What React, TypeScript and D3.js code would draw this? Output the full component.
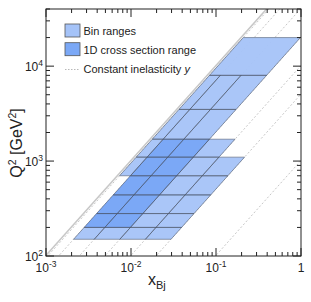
import * as d3 from "d3";

// ep centre-of-mass energy squared (GeV^2)
const S = 101568;

// Q^2 bin edges and the inelasticity edges used in each Q^2 band
const q2Edges = [150, 200, 280, 440, 700, 1100, 1700, 3500, 8000, 20000];
const yEdgesByBand = [
  [0.05, 0.1, 0.2, 0.4, 0.7],
  [0.05, 0.1, 0.2, 0.4, 0.7],
  [0.05, 0.1, 0.2, 0.4, 0.7],
  [0.05, 0.1, 0.2, 0.4, 0.7],
  [0.05, 0.1, 0.2, 0.4, 0.7, 0.94],
  [0.1, 0.2, 0.4, 0.7, 0.94],
  [0.2, 0.4, 0.7, 0.94],
  [0.2, 0.4, 0.7, 0.94],
  [0.2, 0.94],
];

// 1D cross section phase space
const oneDQ2 = [200, 1700];
const oneDY = [0.2, 0.7];

// constant inelasticity lines
const yLines = [0.94, 0.7, 0.4, 0.2, 0.1, 0.05, 0.01];

const xLabelValues = [0.001, 0.01, 0.1, 1];
const xLabelExp = ["-3", "-2", "-1", ""];
const yLabelValues = [100, 1000, 10000];
const yLabelExp = ["2", "3", "4"];

const legendItems = ["Bin ranges", "1D cross section range"];

const W = 311;
const H = 302;
const frame = { left: 46, right: 301, top: 9, bottom: 256 };
const FONT = "Liberation Sans, Arial, Helvetica, sans-serif";

const lightFill = "#a5c3f8";
const darkFill = "#7ba8f6";
const edgeColor = "#4a5568";

export default function App() {
  const x = d3.scaleLog().domain([1e-3, 1]).range([frame.left, frame.right]);
  const y = d3.scaleLog().domain([100, 40000]).range([frame.bottom, frame.top]);

  const xAt = (q2: number, yy: number) => x(q2 / (S * yy));

  const cell = (q2lo: number, q2hi: number, ylo: number, yhi: number) => {
    const pts: [number, number][] = [
      [xAt(q2lo, yhi), y(q2lo)],
      [xAt(q2lo, ylo), y(q2lo)],
      [xAt(q2hi, ylo), y(q2hi)],
      [xAt(q2hi, yhi), y(q2hi)],
    ];
    return "M" + pts.map((p) => p.join(",")).join("L") + "Z";
  };

  const bins: { d: string; key: string }[] = [];
  yEdgesByBand.forEach((edges, i) => {
    for (let j = 0; j < edges.length - 1; j++) {
      bins.push({
        key: `b${i}-${j}`,
        d: cell(q2Edges[i], q2Edges[i + 1], edges[j], edges[j + 1]),
      });
    }
  });

  const xTicks = x.ticks();
  const yTicks = y.ticks().filter((t) => t <= 40000);
  const isMajor = (t: number) => Math.abs(Math.log10(t) - Math.round(Math.log10(t))) < 1e-6;

  const lineFor = (yy: number) => {
    const q0 = 50;
    const q1 = 100000;
    return `M${xAt(q0, yy)},${y(q0)}L${xAt(q1, yy)},${y(q1)}`;
  };

  return (
    <svg width={W} height={H} style={{ position: "absolute", left: 0, top: 0 }} fontFamily={FONT}>
      <defs>
        <clipPath id="frame">
          <rect x={frame.left} y={frame.top} width={frame.right - frame.left} height={frame.bottom - frame.top} />
        </clipPath>
      </defs>
      <rect width={W} height={H} fill="white" />

      <g clipPath="url(#frame)">
        {/* y = 1 kinematic limit */}
        <path d={lineFor(1)} stroke="#c8c8c8" strokeWidth={1.6} fill="none" />
        {yLines.map((yy) => (
          <path key={yy} d={lineFor(yy)} stroke="#b8b8b8" strokeWidth={0.8} strokeDasharray="2,2" fill="none" />
        ))}

        {bins.map((b) => (
          <path key={b.key} d={b.d} fill={lightFill} fillOpacity={0.95} />
        ))}
        <path d={cell(oneDQ2[0], oneDQ2[1], oneDY[0], oneDY[1])} fill={darkFill} />
        {bins.map((b) => (
          <path key={b.key + "e"} d={b.d} fill="none" stroke={edgeColor} strokeOpacity={0.7} strokeWidth={0.8} />
        ))}
      </g>

      {/* frame */}
      <rect
        x={frame.left}
        y={frame.top}
        width={frame.right - frame.left}
        height={frame.bottom - frame.top}
        fill="none"
        stroke="#222"
        strokeWidth={1}
      />

      {/* ticks */}
      {xTicks.map((t) => {
        const len = isMajor(t) ? 8 : 4;
        const px = x(t);
        return (
          <g key={"xt" + t} stroke="#222" strokeWidth={1}>
            <line x1={px} x2={px} y1={frame.bottom} y2={frame.bottom - len} />
            <line x1={px} x2={px} y1={frame.top} y2={frame.top + len} />
          </g>
        );
      })}
      {yTicks.map((t) => {
        const len = isMajor(t) ? 8 : 4;
        const py = y(t);
        return (
          <g key={"yt" + t} stroke="#222" strokeWidth={1}>
            <line x1={frame.left} x2={frame.left + len} y1={py} y2={py} />
            <line x1={frame.right} x2={frame.right - len} y1={py} y2={py} />
          </g>
        );
      })}

      {/* tick labels */}
      {xLabelValues.map((v, i) => (
        <text key={"xl" + v} x={x(v)} y={272} fontSize={12} textAnchor="middle" fill="#222">
          {xLabelExp[i] ? (
            <>
              10<tspan dy={-5} fontSize={8.5}>{xLabelExp[i]}</tspan>
            </>
          ) : (
            "1"
          )}
        </text>
      ))}
      {yLabelValues.map((v, i) => (
        <text key={"yl" + v} x={43} y={y(v) + 5} fontSize={12} textAnchor="end" fill="#222">
          10<tspan dy={-5} fontSize={8.5}>{yLabelExp[i]}</tspan>
        </text>
      ))}

      {/* axis titles */}
      <text x={148} y={285} fontSize={16} fill="#222">
        x<tspan dy={4} fontSize={11}>Bj</tspan>
      </text>
      <text transform="translate(22,143) rotate(-90)" fontSize={16} textAnchor="middle" fill="#222">
        Q<tspan dy={-6} fontSize={10.5}>2</tspan>
        <tspan dy={6}> [GeV</tspan>
        <tspan dy={-6} fontSize={10.5}>2</tspan>
        <tspan dy={6}>]</tspan>
      </text>

      {/* legend */}
      {legendItems.map((label, i) => (
        <g key={label}>
          <rect
            x={65}
            y={24 + i * 18.7}
            width={15}
            height={13}
            fill={i === 0 ? lightFill : darkFill}
            stroke="#555"
            strokeWidth={0.8}
          />
          <text x={83.5} y={35 + i * 18.7} fontSize={11} fill="#222">
            {label}
          </text>
        </g>
      ))}
      <line x1={65} x2={80} y1={69.5} y2={69.5} stroke="#b8b8b8" strokeDasharray="1.5,1.5" />
      <text x={83.5} y={73} fontSize={11} fill="#222">
        Constant inelasticity <tspan fontStyle="italic">y</tspan>
      </text>
    </svg>
  );
}
